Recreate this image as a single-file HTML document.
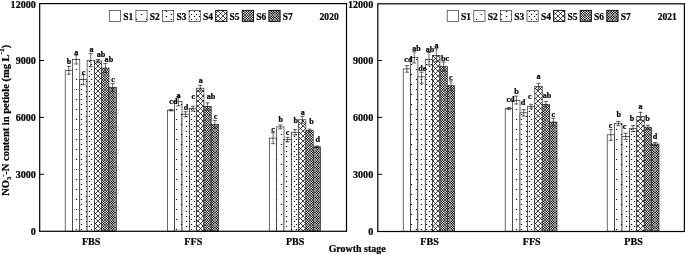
<!DOCTYPE html>
<html lang="en"><head><meta charset="utf-8"><title>NO3-N content in petiole</title>
<style>html,body{margin:0;padding:0;background:#fff}body{width:685px;height:255px;overflow:hidden}svg{display:block}</style>
</head><body>
<svg width="685" height="255" viewBox="0 0 685 255" font-family="'Liberation Serif','Times New Roman',serif" font-weight="bold" fill="#000">
<defs>
<pattern id="p2" patternUnits="userSpaceOnUse" x="74" y="147" width="10" height="10"><rect x="1.88" y="2" width="1.24" height="1"/><rect x="6.88" y="7" width="1.24" height="1"/></pattern>
<pattern id="p3" patternUnits="userSpaceOnUse" x="79" y="143" width="10" height="10"><rect x="1.88" y="1" width="1.24" height="1"/><rect x="1.88" y="6" width="1.24" height="1"/><rect x="6.88" y="3" width="1.24" height="1"/><rect x="6.88" y="8" width="1.24" height="1"/></pattern>
<pattern id="p4" patternUnits="userSpaceOnUse" x="88" y="140" width="10" height="10"><rect x="0.88" y="1" width="1.24" height="1"/><rect x="0.88" y="6" width="1.24" height="1"/><rect x="5.88" y="1" width="1.24" height="1"/><rect x="5.88" y="6" width="1.24" height="1"/><rect x="2.88" y="4" width="1.24" height="1"/><rect x="2.88" y="9" width="1.24" height="1"/><rect x="7.88" y="4" width="1.24" height="1"/><rect x="7.88" y="9" width="1.24" height="1"/></pattern>
<pattern id="p5" patternUnits="userSpaceOnUse" x="95" y="143" width="5" height="5">
<path d="M-1 -1L6 6M-1 2L2 -1M-1 7L7 -1M4 7L7 4" stroke="#000" stroke-width="0.72" fill="none"/>
</pattern>
<pattern id="p6" patternUnits="userSpaceOnUse" x="0" y="0" width="5" height="5"><rect x="0" y="0" width="1.02" height="1.02" fill="#4f4f4f"/><rect x="1" y="0" width="1.02" height="1.02" fill="#ababab"/><rect x="2" y="0" width="1.02" height="1.02" fill="#4f4f4f"/><rect x="3" y="0" width="1.02" height="1.02" fill="#ababab"/><rect x="4" y="0" width="1.02" height="1.02" fill="#4f4f4f"/><rect x="0" y="1" width="1.02" height="1.02" fill="#ababab"/><rect x="1" y="1" width="1.02" height="1.02" fill="#0f0f0f"/><rect x="2" y="1" width="1.02" height="1.02" fill="#ffffff"/><rect x="3" y="1" width="1.02" height="1.02" fill="#0f0f0f"/><rect x="4" y="1" width="1.02" height="1.02" fill="#ababab"/><rect x="0" y="2" width="1.02" height="1.02" fill="#4f4f4f"/><rect x="1" y="2" width="1.02" height="1.02" fill="#ffffff"/><rect x="2" y="2" width="1.02" height="1.02" fill="#000000"/><rect x="3" y="2" width="1.02" height="1.02" fill="#ffffff"/><rect x="4" y="2" width="1.02" height="1.02" fill="#4f4f4f"/><rect x="0" y="3" width="1.02" height="1.02" fill="#ababab"/><rect x="1" y="3" width="1.02" height="1.02" fill="#0f0f0f"/><rect x="2" y="3" width="1.02" height="1.02" fill="#ffffff"/><rect x="3" y="3" width="1.02" height="1.02" fill="#0f0f0f"/><rect x="4" y="3" width="1.02" height="1.02" fill="#ababab"/><rect x="0" y="4" width="1.02" height="1.02" fill="#4f4f4f"/><rect x="1" y="4" width="1.02" height="1.02" fill="#ababab"/><rect x="2" y="4" width="1.02" height="1.02" fill="#4f4f4f"/><rect x="3" y="4" width="1.02" height="1.02" fill="#ababab"/><rect x="4" y="4" width="1.02" height="1.02" fill="#4f4f4f"/></pattern>
<pattern id="p7" patternUnits="userSpaceOnUse" x="0" y="0" width="5" height="5"><rect x="0" y="0" width="1.02" height="1.02" fill="#858585"/><rect x="1" y="0" width="1.02" height="1.02" fill="#9d9d9d"/><rect x="2" y="0" width="1.02" height="1.02" fill="#3d3d3d"/><rect x="3" y="0" width="1.02" height="1.02" fill="#9d9d9d"/><rect x="4" y="0" width="1.02" height="1.02" fill="#858585"/><rect x="0" y="1" width="1.02" height="1.02" fill="#9d9d9d"/><rect x="1" y="1" width="1.02" height="1.02" fill="#000000"/><rect x="2" y="1" width="1.02" height="1.02" fill="#d1d1d1"/><rect x="3" y="1" width="1.02" height="1.02" fill="#000000"/><rect x="4" y="1" width="1.02" height="1.02" fill="#9d9d9d"/><rect x="0" y="2" width="1.02" height="1.02" fill="#3d3d3d"/><rect x="1" y="2" width="1.02" height="1.02" fill="#d1d1d1"/><rect x="2" y="2" width="1.02" height="1.02" fill="#000000"/><rect x="3" y="2" width="1.02" height="1.02" fill="#d1d1d1"/><rect x="4" y="2" width="1.02" height="1.02" fill="#3d3d3d"/><rect x="0" y="3" width="1.02" height="1.02" fill="#9d9d9d"/><rect x="1" y="3" width="1.02" height="1.02" fill="#000000"/><rect x="2" y="3" width="1.02" height="1.02" fill="#d1d1d1"/><rect x="3" y="3" width="1.02" height="1.02" fill="#000000"/><rect x="4" y="3" width="1.02" height="1.02" fill="#9d9d9d"/><rect x="0" y="4" width="1.02" height="1.02" fill="#858585"/><rect x="1" y="4" width="1.02" height="1.02" fill="#9d9d9d"/><rect x="2" y="4" width="1.02" height="1.02" fill="#3d3d3d"/><rect x="3" y="4" width="1.02" height="1.02" fill="#9d9d9d"/><rect x="4" y="4" width="1.02" height="1.02" fill="#858585"/></pattern>
</defs>
<rect x="65.20" y="70.30" width="7.30" height="160.90" fill="#fff" stroke="none"/>
<rect x="65.20" y="70.30" width="7.30" height="160.90" fill="#fff" stroke="#111" stroke-width="0.62"/>
<rect x="72.50" y="59.40" width="7.30" height="171.80" fill="#fff" stroke="none"/>
<rect x="72.50" y="59.40" width="7.30" height="171.80" fill="url(#p2)" stroke="#111" stroke-width="0.62"/>
<rect x="79.80" y="79.30" width="7.30" height="151.90" fill="#fff" stroke="none"/>
<rect x="79.80" y="79.30" width="7.30" height="151.90" fill="url(#p3)" stroke="#111" stroke-width="0.62"/>
<rect x="87.10" y="60.30" width="7.30" height="170.90" fill="#fff" stroke="none"/>
<rect x="87.10" y="60.30" width="7.30" height="170.90" fill="url(#p4)" stroke="#111" stroke-width="0.62"/>
<rect x="94.40" y="61.00" width="7.30" height="170.20" fill="#fff" stroke="none"/>
<rect x="94.40" y="61.00" width="7.30" height="170.20" fill="url(#p5)" stroke="#111" stroke-width="0.62"/>
<rect x="101.70" y="68.00" width="7.30" height="163.20" fill="#fff" stroke="none"/>
<rect x="101.70" y="68.00" width="7.30" height="163.20" fill="url(#p6)" stroke="#111" stroke-width="0.62"/>
<rect x="109.00" y="87.30" width="7.30" height="143.90" fill="#fff" stroke="none"/>
<rect x="109.00" y="87.30" width="7.30" height="143.90" fill="url(#p7)" stroke="#111" stroke-width="0.62"/>
<path d="M68.85 66.40V74.20M66.75 66.40h4.2M66.75 74.20h4.2" stroke="#111" stroke-width="0.65" fill="none"/>
<path d="M76.15 55.00V64.00M74.05 55.00h4.2M74.05 64.00h4.2" stroke="#111" stroke-width="0.65" fill="none"/>
<path d="M83.45 74.70V84.60M81.35 74.70h4.2M81.35 84.60h4.2" stroke="#111" stroke-width="0.65" fill="none"/>
<path d="M90.75 53.50V66.80M88.65 53.50h4.2M88.65 66.80h4.2" stroke="#111" stroke-width="0.65" fill="none"/>
<path d="M98.05 59.50V62.80M95.95 59.50h4.2M95.95 62.80h4.2" stroke="#111" stroke-width="0.65" fill="none"/>
<path d="M105.35 63.50V72.50M103.25 63.50h4.2M103.25 72.50h4.2" stroke="#111" stroke-width="0.65" fill="none"/>
<path d="M112.65 83.40V91.20M110.55 83.40h4.2M110.55 91.20h4.2" stroke="#111" stroke-width="0.65" fill="none"/>
<text transform="translate(69.05,64.00) scale(0.955,1)" font-size="8.5" text-anchor="middle" stroke="#000" stroke-width="0.22" >b</text>
<text transform="translate(76.35,55.30) scale(0.955,1)" font-size="8.5" text-anchor="middle" stroke="#000" stroke-width="0.22" >a</text>
<text transform="translate(83.45,74.70) scale(0.955,1)" font-size="8.5" text-anchor="middle" stroke="#000" stroke-width="0.22" >c</text>
<text transform="translate(91.50,52.20) scale(0.955,1)" font-size="8.5" text-anchor="middle" stroke="#000" stroke-width="0.22" >a</text>
<text transform="translate(100.95,57.20) scale(0.955,1)" font-size="8.5" text-anchor="middle" stroke="#000" stroke-width="0.22" >ab</text>
<text transform="translate(108.85,61.50) scale(0.955,1)" font-size="8.5" text-anchor="middle" stroke="#000" stroke-width="0.22" >ab</text>
<text transform="translate(113.00,81.80) scale(0.955,1)" font-size="8.5" text-anchor="middle" stroke="#000" stroke-width="0.22" >c</text>
<rect x="167.40" y="110.20" width="7.30" height="121.00" fill="#fff" stroke="none"/>
<rect x="167.40" y="110.20" width="7.30" height="121.00" fill="#fff" stroke="#111" stroke-width="0.62"/>
<rect x="174.70" y="101.30" width="7.30" height="129.90" fill="#fff" stroke="none"/>
<rect x="174.70" y="101.30" width="7.30" height="129.90" fill="url(#p2)" stroke="#111" stroke-width="0.62"/>
<rect x="182.00" y="114.20" width="7.30" height="117.00" fill="#fff" stroke="none"/>
<rect x="182.00" y="114.20" width="7.30" height="117.00" fill="url(#p3)" stroke="#111" stroke-width="0.62"/>
<rect x="189.30" y="108.60" width="7.30" height="122.60" fill="#fff" stroke="none"/>
<rect x="189.30" y="108.60" width="7.30" height="122.60" fill="url(#p4)" stroke="#111" stroke-width="0.62"/>
<rect x="196.60" y="88.20" width="7.30" height="143.00" fill="#fff" stroke="none"/>
<rect x="196.60" y="88.20" width="7.30" height="143.00" fill="url(#p5)" stroke="#111" stroke-width="0.62"/>
<rect x="203.90" y="106.40" width="7.30" height="124.80" fill="#fff" stroke="none"/>
<rect x="203.90" y="106.40" width="7.30" height="124.80" fill="url(#p6)" stroke="#111" stroke-width="0.62"/>
<rect x="211.20" y="124.40" width="7.30" height="106.80" fill="#fff" stroke="none"/>
<rect x="211.20" y="124.40" width="7.30" height="106.80" fill="url(#p7)" stroke="#111" stroke-width="0.62"/>
<path d="M171.05 109.50V110.90M168.95 109.50h4.2M168.95 110.90h4.2" stroke="#111" stroke-width="0.65" fill="none"/>
<path d="M178.35 96.70V105.90M176.25 96.70h4.2M176.25 105.90h4.2" stroke="#111" stroke-width="0.65" fill="none"/>
<path d="M185.65 111.70V116.80M183.55 111.70h4.2M183.55 116.80h4.2" stroke="#111" stroke-width="0.65" fill="none"/>
<path d="M192.95 106.20V111.00M190.85 106.20h4.2M190.85 111.00h4.2" stroke="#111" stroke-width="0.65" fill="none"/>
<path d="M200.25 85.30V91.10M198.15 85.30h4.2M198.15 91.10h4.2" stroke="#111" stroke-width="0.65" fill="none"/>
<path d="M207.55 102.80V110.00M205.45 102.80h4.2M205.45 110.00h4.2" stroke="#111" stroke-width="0.65" fill="none"/>
<path d="M214.85 120.40V128.40M212.75 120.40h4.2M212.75 128.40h4.2" stroke="#111" stroke-width="0.65" fill="none"/>
<text transform="translate(173.40,103.80) scale(0.955,1)" font-size="8.5" text-anchor="middle" stroke="#000" stroke-width="0.22" >cd</text>
<text transform="translate(178.65,97.70) scale(0.955,1)" font-size="8.5" text-anchor="middle" stroke="#000" stroke-width="0.22" >a</text>
<text transform="translate(186.00,109.70) scale(0.955,1)" font-size="8.5" text-anchor="middle" stroke="#000" stroke-width="0.22" >d</text>
<text transform="translate(193.30,99.40) scale(0.955,1)" font-size="8.5" text-anchor="middle" stroke="#000" stroke-width="0.22" >c</text>
<text transform="translate(200.80,83.10) scale(0.955,1)" font-size="8.5" text-anchor="middle" stroke="#000" stroke-width="0.22" >a</text>
<text transform="translate(211.00,99.20) scale(0.955,1)" font-size="8.5" text-anchor="middle" stroke="#000" stroke-width="0.22" >ab</text>
<text transform="translate(215.45,119.30) scale(0.955,1)" font-size="8.5" text-anchor="middle" stroke="#000" stroke-width="0.22" >c</text>
<rect x="269.40" y="138.10" width="7.30" height="93.10" fill="#fff" stroke="none"/>
<rect x="269.40" y="138.10" width="7.30" height="93.10" fill="#fff" stroke="#111" stroke-width="0.62"/>
<rect x="276.70" y="126.90" width="7.30" height="104.30" fill="#fff" stroke="none"/>
<rect x="276.70" y="126.90" width="7.30" height="104.30" fill="url(#p2)" stroke="#111" stroke-width="0.62"/>
<rect x="284.00" y="139.60" width="7.30" height="91.60" fill="#fff" stroke="none"/>
<rect x="284.00" y="139.60" width="7.30" height="91.60" fill="url(#p3)" stroke="#111" stroke-width="0.62"/>
<rect x="291.30" y="132.20" width="7.30" height="99.00" fill="#fff" stroke="none"/>
<rect x="291.30" y="132.20" width="7.30" height="99.00" fill="url(#p4)" stroke="#111" stroke-width="0.62"/>
<rect x="298.60" y="119.80" width="7.30" height="111.40" fill="#fff" stroke="none"/>
<rect x="298.60" y="119.80" width="7.30" height="111.40" fill="url(#p5)" stroke="#111" stroke-width="0.62"/>
<rect x="305.90" y="130.70" width="7.30" height="100.50" fill="#fff" stroke="none"/>
<rect x="305.90" y="130.70" width="7.30" height="100.50" fill="url(#p6)" stroke="#111" stroke-width="0.62"/>
<rect x="313.20" y="146.80" width="7.30" height="84.40" fill="#fff" stroke="none"/>
<rect x="313.20" y="146.80" width="7.30" height="84.40" fill="url(#p7)" stroke="#111" stroke-width="0.62"/>
<path d="M273.05 132.70V143.70M270.95 132.70h4.2M270.95 143.70h4.2" stroke="#111" stroke-width="0.65" fill="none"/>
<path d="M280.35 125.00V128.80M278.25 125.00h4.2M278.25 128.80h4.2" stroke="#111" stroke-width="0.65" fill="none"/>
<path d="M287.65 137.30V141.90M285.55 137.30h4.2M285.55 141.90h4.2" stroke="#111" stroke-width="0.65" fill="none"/>
<path d="M294.95 129.40V135.00M292.85 129.40h4.2M292.85 135.00h4.2" stroke="#111" stroke-width="0.65" fill="none"/>
<path d="M302.25 116.30V123.30M300.15 116.30h4.2M300.15 123.30h4.2" stroke="#111" stroke-width="0.65" fill="none"/>
<path d="M309.55 129.20V132.20M307.45 129.20h4.2M307.45 132.20h4.2" stroke="#111" stroke-width="0.65" fill="none"/>
<path d="M316.85 146.00V147.60M314.75 146.00h4.2M314.75 147.60h4.2" stroke="#111" stroke-width="0.65" fill="none"/>
<text transform="translate(272.95,132.20) scale(0.955,1)" font-size="8.5" text-anchor="middle" stroke="#000" stroke-width="0.22" >c</text>
<text transform="translate(280.80,122.40) scale(0.955,1)" font-size="8.5" text-anchor="middle" stroke="#000" stroke-width="0.22" >b</text>
<text transform="translate(287.65,134.80) scale(0.955,1)" font-size="8.5" text-anchor="middle" stroke="#000" stroke-width="0.22" >c</text>
<text transform="translate(295.80,123.40) scale(0.955,1)" font-size="8.5" text-anchor="middle" stroke="#000" stroke-width="0.22" >b</text>
<text transform="translate(302.70,114.70) scale(0.955,1)" font-size="8.5" text-anchor="middle" stroke="#000" stroke-width="0.22" >a</text>
<text transform="translate(311.40,123.90) scale(0.955,1)" font-size="8.5" text-anchor="middle" stroke="#000" stroke-width="0.22" >b</text>
<text transform="translate(317.65,142.40) scale(0.955,1)" font-size="8.5" text-anchor="middle" stroke="#000" stroke-width="0.22" >d</text>
<rect x="39.70" y="3.60" width="306.80" height="227.70" fill="none" stroke="#000" stroke-width="1.2"/>
<text transform="translate(35.90,235.15) scale(0.955,1)" font-size="10.6" text-anchor="end" stroke="#000" stroke-width="0.22" >0</text>
<path d="M39.70 174.30h4.3" stroke="#000" stroke-width="1"/>
<text transform="translate(35.90,178.25) scale(0.955,1)" font-size="10.6" text-anchor="end" stroke="#000" stroke-width="0.22" >3000</text>
<path d="M39.70 117.40h4.3" stroke="#000" stroke-width="1"/>
<text transform="translate(35.90,121.35) scale(0.955,1)" font-size="10.6" text-anchor="end" stroke="#000" stroke-width="0.22" >6000</text>
<path d="M39.70 60.50h4.3" stroke="#000" stroke-width="1"/>
<text transform="translate(35.90,64.45) scale(0.955,1)" font-size="10.6" text-anchor="end" stroke="#000" stroke-width="0.22" >9000</text>
<text transform="translate(35.90,7.55) scale(0.955,1)" font-size="10.6" text-anchor="end" stroke="#000" stroke-width="0.22" >12000</text>
<rect x="109.30" y="10.4" width="11.2" height="11.0" fill="#fff"/>
<rect x="109.30" y="10.4" width="11.2" height="11.0" fill="#fff" stroke="#333" stroke-width="0.7"/>
<text transform="translate(123.20,19.70) scale(0.895,1)" font-size="10.6" text-anchor="start" stroke="#000" stroke-width="0.22" >S1</text>
<rect x="135.90" y="10.4" width="11.2" height="11.0" fill="#fff"/>
<rect x="135.90" y="10.4" width="11.2" height="11.0" fill="url(#p2)" stroke="#333" stroke-width="0.7"/>
<text transform="translate(149.80,19.70) scale(0.895,1)" font-size="10.6" text-anchor="start" stroke="#000" stroke-width="0.22" >S2</text>
<rect x="162.50" y="10.4" width="11.2" height="11.0" fill="#fff"/>
<rect x="162.50" y="10.4" width="11.2" height="11.0" fill="url(#p3)" stroke="#333" stroke-width="0.7"/>
<text transform="translate(176.40,19.70) scale(0.895,1)" font-size="10.6" text-anchor="start" stroke="#000" stroke-width="0.22" >S3</text>
<rect x="189.10" y="10.4" width="11.2" height="11.0" fill="#fff"/>
<rect x="189.10" y="10.4" width="11.2" height="11.0" fill="url(#p4)" stroke="#333" stroke-width="0.7"/>
<text transform="translate(203.00,19.70) scale(0.895,1)" font-size="10.6" text-anchor="start" stroke="#000" stroke-width="0.22" >S4</text>
<rect x="215.70" y="10.4" width="11.2" height="11.0" fill="#fff"/>
<rect x="215.70" y="10.4" width="11.2" height="11.0" fill="url(#p5)" stroke="#111" stroke-width="1.0"/>
<text transform="translate(229.60,19.70) scale(0.895,1)" font-size="10.6" text-anchor="start" stroke="#000" stroke-width="0.22" >S5</text>
<rect x="242.30" y="10.4" width="11.2" height="11.0" fill="#fff"/>
<rect x="242.30" y="10.4" width="11.2" height="11.0" fill="url(#p6)" stroke="#111" stroke-width="1.0"/>
<text transform="translate(256.20,19.70) scale(0.895,1)" font-size="10.6" text-anchor="start" stroke="#000" stroke-width="0.22" >S6</text>
<rect x="268.90" y="10.4" width="11.2" height="11.0" fill="#fff"/>
<rect x="268.90" y="10.4" width="11.2" height="11.0" fill="url(#p7)" stroke="#111" stroke-width="1.0"/>
<text transform="translate(282.80,19.70) scale(0.895,1)" font-size="10.6" text-anchor="start" stroke="#000" stroke-width="0.22" >S7</text>
<text transform="translate(319.60,19.80) scale(0.9,1)" font-size="10.6" text-anchor="start" stroke="#000" stroke-width="0.22" >2020</text>
<rect x="403.20" y="68.90" width="7.35" height="162.30" fill="#fff" stroke="none"/>
<rect x="403.20" y="68.90" width="7.35" height="162.30" fill="#fff" stroke="#111" stroke-width="0.62"/>
<rect x="410.55" y="57.40" width="7.35" height="173.80" fill="#fff" stroke="none"/>
<rect x="410.55" y="57.40" width="7.35" height="173.80" fill="url(#p2)" stroke="#111" stroke-width="0.62"/>
<rect x="417.90" y="76.80" width="7.35" height="154.40" fill="#fff" stroke="none"/>
<rect x="417.90" y="76.80" width="7.35" height="154.40" fill="url(#p3)" stroke="#111" stroke-width="0.62"/>
<rect x="425.25" y="59.40" width="7.35" height="171.80" fill="#fff" stroke="none"/>
<rect x="425.25" y="59.40" width="7.35" height="171.80" fill="url(#p4)" stroke="#111" stroke-width="0.62"/>
<rect x="432.60" y="55.30" width="7.35" height="175.90" fill="#fff" stroke="none"/>
<rect x="432.60" y="55.30" width="7.35" height="175.90" fill="url(#p5)" stroke="#111" stroke-width="0.62"/>
<rect x="439.95" y="66.60" width="7.35" height="164.60" fill="#fff" stroke="none"/>
<rect x="439.95" y="66.60" width="7.35" height="164.60" fill="url(#p6)" stroke="#111" stroke-width="0.62"/>
<rect x="447.30" y="85.70" width="7.35" height="145.50" fill="#fff" stroke="none"/>
<rect x="447.30" y="85.70" width="7.35" height="145.50" fill="url(#p7)" stroke="#111" stroke-width="0.62"/>
<path d="M406.88 65.60V72.20M404.77 65.60h4.2M404.77 72.20h4.2" stroke="#111" stroke-width="0.65" fill="none"/>
<path d="M414.22 51.80V63.00M412.12 51.80h4.2M412.12 63.00h4.2" stroke="#111" stroke-width="0.65" fill="none"/>
<path d="M421.57 72.20V83.20M419.47 72.20h4.2M419.47 83.20h4.2" stroke="#111" stroke-width="0.65" fill="none"/>
<path d="M428.93 52.50V65.00M426.82 52.50h4.2M426.82 65.00h4.2" stroke="#111" stroke-width="0.65" fill="none"/>
<path d="M436.27 48.70V61.90M434.17 48.70h4.2M434.17 61.90h4.2" stroke="#111" stroke-width="0.65" fill="none"/>
<path d="M443.62 62.00V71.20M441.52 62.00h4.2M441.52 71.20h4.2" stroke="#111" stroke-width="0.65" fill="none"/>
<path d="M450.97 80.90V90.50M448.87 80.90h4.2M448.87 90.50h4.2" stroke="#111" stroke-width="0.65" fill="none"/>
<text transform="translate(408.35,62.00) scale(0.955,1)" font-size="8.5" text-anchor="middle" stroke="#000" stroke-width="0.22" >cd</text>
<text transform="translate(416.40,51.40) scale(0.955,1)" font-size="8.5" text-anchor="middle" stroke="#000" stroke-width="0.22" >ab</text>
<text transform="translate(422.25,71.20) scale(0.955,1)" font-size="8.5" text-anchor="middle" stroke="#000" stroke-width="0.22" >de</text>
<text transform="translate(430.05,52.00) scale(0.955,1)" font-size="8.5" text-anchor="middle" stroke="#000" stroke-width="0.22" >ab</text>
<text transform="translate(436.55,48.40) scale(0.955,1)" font-size="8.5" text-anchor="middle" stroke="#000" stroke-width="0.22" >a</text>
<text transform="translate(445.10,61.30) scale(0.955,1)" font-size="8.5" text-anchor="middle" stroke="#000" stroke-width="0.22" >bc</text>
<text transform="translate(450.80,80.20) scale(0.955,1)" font-size="8.5" text-anchor="middle" stroke="#000" stroke-width="0.22" >c</text>
<rect x="505.20" y="108.50" width="7.40" height="122.70" fill="#fff" stroke="none"/>
<rect x="505.20" y="108.50" width="7.40" height="122.70" fill="#fff" stroke="#111" stroke-width="0.62"/>
<rect x="512.60" y="100.70" width="7.40" height="130.50" fill="#fff" stroke="none"/>
<rect x="512.60" y="100.70" width="7.40" height="130.50" fill="url(#p2)" stroke="#111" stroke-width="0.62"/>
<rect x="520.00" y="112.80" width="7.40" height="118.40" fill="#fff" stroke="none"/>
<rect x="520.00" y="112.80" width="7.40" height="118.40" fill="url(#p3)" stroke="#111" stroke-width="0.62"/>
<rect x="527.40" y="106.30" width="7.40" height="124.90" fill="#fff" stroke="none"/>
<rect x="527.40" y="106.30" width="7.40" height="124.90" fill="url(#p4)" stroke="#111" stroke-width="0.62"/>
<rect x="534.80" y="86.30" width="7.40" height="144.90" fill="#fff" stroke="none"/>
<rect x="534.80" y="86.30" width="7.40" height="144.90" fill="url(#p5)" stroke="#111" stroke-width="0.62"/>
<rect x="542.20" y="104.30" width="7.40" height="126.90" fill="#fff" stroke="none"/>
<rect x="542.20" y="104.30" width="7.40" height="126.90" fill="url(#p6)" stroke="#111" stroke-width="0.62"/>
<rect x="549.60" y="122.00" width="7.40" height="109.20" fill="#fff" stroke="none"/>
<rect x="549.60" y="122.00" width="7.40" height="109.20" fill="url(#p7)" stroke="#111" stroke-width="0.62"/>
<path d="M508.90 107.50V109.50M506.80 107.50h4.2M506.80 109.50h4.2" stroke="#111" stroke-width="0.65" fill="none"/>
<path d="M516.30 96.10V104.00M514.20 96.10h4.2M514.20 104.00h4.2" stroke="#111" stroke-width="0.65" fill="none"/>
<path d="M523.70 109.60V116.00M521.60 109.60h4.2M521.60 116.00h4.2" stroke="#111" stroke-width="0.65" fill="none"/>
<path d="M531.10 104.30V108.30M529.00 104.30h4.2M529.00 108.30h4.2" stroke="#111" stroke-width="0.65" fill="none"/>
<path d="M538.50 83.30V89.30M536.40 83.30h4.2M536.40 89.30h4.2" stroke="#111" stroke-width="0.65" fill="none"/>
<path d="M545.90 101.40V107.20M543.80 101.40h4.2M543.80 107.20h4.2" stroke="#111" stroke-width="0.65" fill="none"/>
<path d="M553.30 118.20V125.80M551.20 118.20h4.2M551.20 125.80h4.2" stroke="#111" stroke-width="0.65" fill="none"/>
<text transform="translate(510.45,101.70) scale(0.955,1)" font-size="8.5" text-anchor="middle" stroke="#000" stroke-width="0.22" >cd</text>
<text transform="translate(516.45,93.50) scale(0.955,1)" font-size="8.5" text-anchor="middle" stroke="#000" stroke-width="0.22" >b</text>
<text transform="translate(522.95,105.30) scale(0.955,1)" font-size="8.5" text-anchor="middle" stroke="#000" stroke-width="0.22" >d</text>
<text transform="translate(529.90,98.60) scale(0.955,1)" font-size="8.5" text-anchor="middle" stroke="#000" stroke-width="0.22" >c</text>
<text transform="translate(538.65,79.20) scale(0.955,1)" font-size="8.5" text-anchor="middle" stroke="#000" stroke-width="0.22" >a</text>
<text transform="translate(547.00,98.10) scale(0.955,1)" font-size="8.5" text-anchor="middle" stroke="#000" stroke-width="0.22" >ab</text>
<text transform="translate(553.25,117.00) scale(0.955,1)" font-size="8.5" text-anchor="middle" stroke="#000" stroke-width="0.22" >c</text>
<rect x="607.20" y="134.80" width="7.40" height="96.40" fill="#fff" stroke="none"/>
<rect x="607.20" y="134.80" width="7.40" height="96.40" fill="#fff" stroke="#111" stroke-width="0.62"/>
<rect x="614.60" y="123.60" width="7.40" height="107.60" fill="#fff" stroke="none"/>
<rect x="614.60" y="123.60" width="7.40" height="107.60" fill="url(#p2)" stroke="#111" stroke-width="0.62"/>
<rect x="622.00" y="136.40" width="7.40" height="94.80" fill="#fff" stroke="none"/>
<rect x="622.00" y="136.40" width="7.40" height="94.80" fill="url(#p3)" stroke="#111" stroke-width="0.62"/>
<rect x="629.40" y="128.70" width="7.40" height="102.50" fill="#fff" stroke="none"/>
<rect x="629.40" y="128.70" width="7.40" height="102.50" fill="url(#p4)" stroke="#111" stroke-width="0.62"/>
<rect x="636.80" y="116.30" width="7.40" height="114.90" fill="#fff" stroke="none"/>
<rect x="636.80" y="116.30" width="7.40" height="114.90" fill="url(#p5)" stroke="#111" stroke-width="0.62"/>
<rect x="644.20" y="127.20" width="7.40" height="104.00" fill="#fff" stroke="none"/>
<rect x="644.20" y="127.20" width="7.40" height="104.00" fill="url(#p6)" stroke="#111" stroke-width="0.62"/>
<rect x="651.60" y="144.00" width="7.40" height="87.20" fill="#fff" stroke="none"/>
<rect x="651.60" y="144.00" width="7.40" height="87.20" fill="url(#p7)" stroke="#111" stroke-width="0.62"/>
<path d="M610.90 129.40V140.40M608.80 129.40h4.2M608.80 140.40h4.2" stroke="#111" stroke-width="0.65" fill="none"/>
<path d="M618.30 121.50V125.70M616.20 121.50h4.2M616.20 125.70h4.2" stroke="#111" stroke-width="0.65" fill="none"/>
<path d="M625.70 133.30V139.40M623.60 133.30h4.2M623.60 139.40h4.2" stroke="#111" stroke-width="0.65" fill="none"/>
<path d="M633.10 125.60V131.60M631.00 125.60h4.2M631.00 131.60h4.2" stroke="#111" stroke-width="0.65" fill="none"/>
<path d="M640.50 112.30V120.30M638.40 112.30h4.2M638.40 120.30h4.2" stroke="#111" stroke-width="0.65" fill="none"/>
<path d="M647.90 125.30V129.10M645.80 125.30h4.2M645.80 129.10h4.2" stroke="#111" stroke-width="0.65" fill="none"/>
<path d="M655.30 142.50V145.50M653.20 142.50h4.2M653.20 145.50h4.2" stroke="#111" stroke-width="0.65" fill="none"/>
<text transform="translate(610.60,127.70) scale(0.955,1)" font-size="8.5" text-anchor="middle" stroke="#000" stroke-width="0.22" >c</text>
<text transform="translate(618.80,116.90) scale(0.955,1)" font-size="8.5" text-anchor="middle" stroke="#000" stroke-width="0.22" >b</text>
<text transform="translate(624.60,129.40) scale(0.955,1)" font-size="8.5" text-anchor="middle" stroke="#000" stroke-width="0.22" >c</text>
<text transform="translate(631.90,120.90) scale(0.955,1)" font-size="8.5" text-anchor="middle" stroke="#000" stroke-width="0.22" >b</text>
<text transform="translate(640.65,108.70) scale(0.955,1)" font-size="8.5" text-anchor="middle" stroke="#000" stroke-width="0.22" >a</text>
<text transform="translate(647.45,120.90) scale(0.955,1)" font-size="8.5" text-anchor="middle" stroke="#000" stroke-width="0.22" >b</text>
<text transform="translate(655.00,138.90) scale(0.955,1)" font-size="8.5" text-anchor="middle" stroke="#000" stroke-width="0.22" >d</text>
<rect x="377.80" y="3.80" width="306.60" height="227.70" fill="none" stroke="#000" stroke-width="1.2"/>
<text transform="translate(373.20,235.15) scale(0.955,1)" font-size="10.6" text-anchor="end" stroke="#000" stroke-width="0.22" >0</text>
<path d="M377.80 174.30h4.3" stroke="#000" stroke-width="1"/>
<text transform="translate(373.20,178.25) scale(0.955,1)" font-size="10.6" text-anchor="end" stroke="#000" stroke-width="0.22" >3000</text>
<path d="M377.80 117.40h4.3" stroke="#000" stroke-width="1"/>
<text transform="translate(373.20,121.35) scale(0.955,1)" font-size="10.6" text-anchor="end" stroke="#000" stroke-width="0.22" >6000</text>
<path d="M377.80 60.50h4.3" stroke="#000" stroke-width="1"/>
<text transform="translate(373.20,64.45) scale(0.955,1)" font-size="10.6" text-anchor="end" stroke="#000" stroke-width="0.22" >9000</text>
<text transform="translate(373.20,7.55) scale(0.955,1)" font-size="10.6" text-anchor="end" stroke="#000" stroke-width="0.22" >12000</text>
<rect x="447.20" y="10.4" width="11.2" height="11.0" fill="#fff"/>
<rect x="447.20" y="10.4" width="11.2" height="11.0" fill="#fff" stroke="#333" stroke-width="0.7"/>
<text transform="translate(461.10,19.70) scale(0.895,1)" font-size="10.6" text-anchor="start" stroke="#000" stroke-width="0.22" >S1</text>
<rect x="473.80" y="10.4" width="11.2" height="11.0" fill="#fff"/>
<rect x="473.80" y="10.4" width="11.2" height="11.0" fill="url(#p2)" stroke="#333" stroke-width="0.7"/>
<text transform="translate(487.70,19.70) scale(0.895,1)" font-size="10.6" text-anchor="start" stroke="#000" stroke-width="0.22" >S2</text>
<rect x="500.40" y="10.4" width="11.2" height="11.0" fill="#fff"/>
<rect x="500.40" y="10.4" width="11.2" height="11.0" fill="url(#p3)" stroke="#333" stroke-width="0.7"/>
<text transform="translate(514.30,19.70) scale(0.895,1)" font-size="10.6" text-anchor="start" stroke="#000" stroke-width="0.22" >S3</text>
<rect x="527.00" y="10.4" width="11.2" height="11.0" fill="#fff"/>
<rect x="527.00" y="10.4" width="11.2" height="11.0" fill="url(#p4)" stroke="#333" stroke-width="0.7"/>
<text transform="translate(540.90,19.70) scale(0.895,1)" font-size="10.6" text-anchor="start" stroke="#000" stroke-width="0.22" >S4</text>
<rect x="553.60" y="10.4" width="11.2" height="11.0" fill="#fff"/>
<rect x="553.60" y="10.4" width="11.2" height="11.0" fill="url(#p5)" stroke="#111" stroke-width="1.0"/>
<text transform="translate(567.50,19.70) scale(0.895,1)" font-size="10.6" text-anchor="start" stroke="#000" stroke-width="0.22" >S5</text>
<rect x="580.20" y="10.4" width="11.2" height="11.0" fill="#fff"/>
<rect x="580.20" y="10.4" width="11.2" height="11.0" fill="url(#p6)" stroke="#111" stroke-width="1.0"/>
<text transform="translate(594.10,19.70) scale(0.895,1)" font-size="10.6" text-anchor="start" stroke="#000" stroke-width="0.22" >S6</text>
<rect x="606.80" y="10.4" width="11.2" height="11.0" fill="#fff"/>
<rect x="606.80" y="10.4" width="11.2" height="11.0" fill="url(#p7)" stroke="#111" stroke-width="1.0"/>
<text transform="translate(620.70,19.70) scale(0.895,1)" font-size="10.6" text-anchor="start" stroke="#000" stroke-width="0.22" >S7</text>
<text transform="translate(657.70,19.80) scale(0.9,1)" font-size="10.6" text-anchor="start" stroke="#000" stroke-width="0.22" >2021</text>
<text transform="translate(91.20,244.70) scale(0.955,1)" font-size="10.6" text-anchor="middle" stroke="#000" stroke-width="0.22" >FBS</text>
<text transform="translate(193.30,244.70) scale(0.955,1)" font-size="10.6" text-anchor="middle" stroke="#000" stroke-width="0.22" >FFS</text>
<text transform="translate(295.20,244.70) scale(0.955,1)" font-size="10.6" text-anchor="middle" stroke="#000" stroke-width="0.22" >PBS</text>
<text transform="translate(429.60,244.70) scale(0.955,1)" font-size="10.6" text-anchor="middle" stroke="#000" stroke-width="0.22" >FBS</text>
<text transform="translate(531.70,244.70) scale(0.955,1)" font-size="10.6" text-anchor="middle" stroke="#000" stroke-width="0.22" >FFS</text>
<text transform="translate(633.60,244.70) scale(0.955,1)" font-size="10.6" text-anchor="middle" stroke="#000" stroke-width="0.22" >PBS</text>
<text transform="translate(357.10,252.30) scale(0.938,1)" font-size="10.6" text-anchor="middle" stroke="#000" stroke-width="0.22" >Growth stage</text>
<text transform="translate(8.7,195.8) rotate(-90)" font-size="10.6" text-anchor="start" stroke="#000" stroke-width="0.22" textLength="151" lengthAdjust="spacingAndGlyphs">NO<tspan font-size="6.6" dy="2.2">3</tspan><tspan font-size="6.6" dy="-6.4">-</tspan><tspan dy="4.2">-N content in petiole (mg L</tspan><tspan font-size="7.4" dy="-4.6">-1</tspan><tspan dy="4.6">)</tspan></text>
</svg>
</body></html>
